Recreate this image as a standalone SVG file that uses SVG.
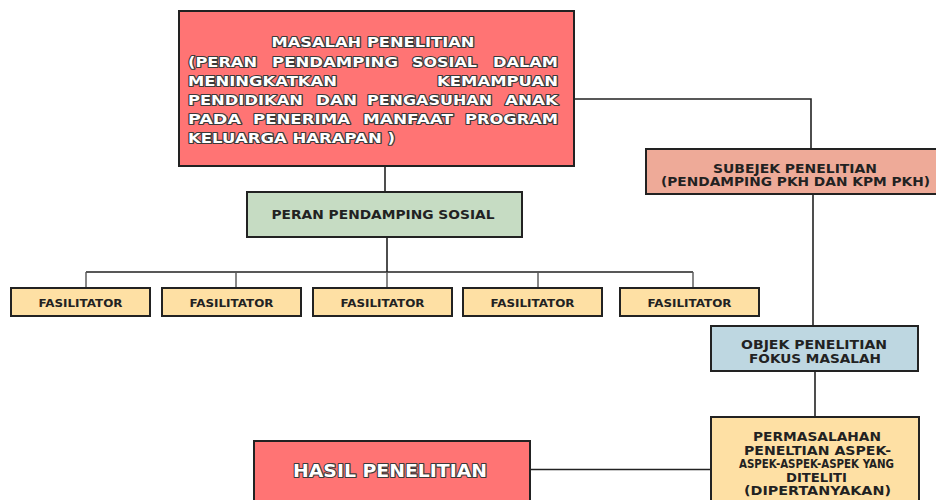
<svg xmlns="http://www.w3.org/2000/svg" width="936" height="500" viewBox="0 0 936 500">
<style>
.box{stroke:#222;stroke-width:2}
.red{fill:#ff7474}
.green{fill:#c6dcc3}
.salmon{fill:#eeaa98}
.blue{fill:#bed7e1}
.yellow{fill:#fee0a4}
.t{font-family:"DejaVu Sans","Open Sans",sans-serif;font-weight:bold;fill:#222;text-anchor:middle}
.w{font-family:"DejaVu Sans","Open Sans",sans-serif;font-weight:bold;fill:#fff;stroke:#3a3a3a;stroke-width:2.2;paint-order:stroke;stroke-linejoin:round}
.c{fill:none;stroke:#222;stroke-width:1.6}
.ct{fill:none;stroke:#555;stroke-width:1.4}
</style>
<rect width="936" height="500" fill="#fff"/>
<g id="connectors">
<path class="c" d="M385 166V192"/>
<path class="c" d="M387 237V272M86 272H693"/>
<path class="ct" d="M86 272V288M236 272V288M387 272V288M538 272V288M693 272V288"/>
<path class="c" d="M574 99H811V149"/>
<path class="c" d="M813 194V326"/>
<path class="c" d="M815 371V417"/>
<path class="c" d="M711 469.5H530"/>
</g>
<g id="masalah">
<rect class="box red" x="179" y="11" width="395" height="155"/>
<g class="w" font-size="14">
<text x="373" y="47" text-anchor="middle" textLength="203" lengthAdjust="spacingAndGlyphs">MASALAH PENELITIAN</text>
<text x="188" y="67" textLength="69" lengthAdjust="spacingAndGlyphs">(PERAN</text>
<text x="272" y="67" textLength="126" lengthAdjust="spacingAndGlyphs">PENDAMPING</text>
<text x="412" y="67" textLength="65" lengthAdjust="spacingAndGlyphs">SOSIAL</text>
<text x="493" y="67" textLength="65" lengthAdjust="spacingAndGlyphs">DALAM</text>
<text x="188" y="86" textLength="149" lengthAdjust="spacingAndGlyphs">MENINGKATKAN</text>
<text x="437" y="86" textLength="121" lengthAdjust="spacingAndGlyphs">KEMAMPUAN</text>
<text x="188" y="105" textLength="115" lengthAdjust="spacingAndGlyphs">PENDIDIKAN</text>
<text x="316" y="105" textLength="41" lengthAdjust="spacingAndGlyphs">DAN</text>
<text x="367" y="105" textLength="125" lengthAdjust="spacingAndGlyphs">PENGASUHAN</text>
<text x="505" y="105" textLength="53" lengthAdjust="spacingAndGlyphs">ANAK</text>
<text x="188" y="124" textLength="53" lengthAdjust="spacingAndGlyphs">PADA</text>
<text x="253" y="124" textLength="97" lengthAdjust="spacingAndGlyphs">PENERIMA</text>
<text x="363" y="124" textLength="90" lengthAdjust="spacingAndGlyphs">MANFAAT</text>
<text x="465" y="124" textLength="93" lengthAdjust="spacingAndGlyphs">PROGRAM</text>
<text x="188" y="143" textLength="207" lengthAdjust="spacingAndGlyphs">KELUARGA HARAPAN )</text>
</g>
</g>
<g id="peran">
<rect class="box green" x="247" y="192" width="275" height="45"/>
<text class="t" x="383" y="218.5" font-size="12.5" textLength="223" lengthAdjust="spacingAndGlyphs">PERAN PENDAMPING SOSIAL</text>
</g>
<g id="fasilitator1">
<rect class="box yellow" x="11" y="288" width="139" height="28"/>
<text class="t" x="80.5" y="306.5" font-size="11" textLength="84" lengthAdjust="spacingAndGlyphs">FASILITATOR</text>
</g>
<g id="fasilitator2">
<rect class="box yellow" x="162" y="288" width="139" height="28"/>
<text class="t" x="231.5" y="306.5" font-size="11" textLength="84" lengthAdjust="spacingAndGlyphs">FASILITATOR</text>
</g>
<g id="fasilitator3">
<rect class="box yellow" x="313" y="288" width="139" height="28"/>
<text class="t" x="382.5" y="306.5" font-size="11" textLength="84" lengthAdjust="spacingAndGlyphs">FASILITATOR</text>
</g>
<g id="fasilitator4">
<rect class="box yellow" x="463" y="288" width="139" height="28"/>
<text class="t" x="532.5" y="306.5" font-size="11" textLength="84" lengthAdjust="spacingAndGlyphs">FASILITATOR</text>
</g>
<g id="fasilitator5">
<rect class="box yellow" x="620" y="288" width="139" height="28"/>
<text class="t" x="689.5" y="306.5" font-size="11" textLength="84" lengthAdjust="spacingAndGlyphs">FASILITATOR</text>
</g>
<g id="subjek">
<rect class="box salmon" x="646" y="149" width="300" height="45"/>
<text class="t" x="795" y="172.5" font-size="12" textLength="164" lengthAdjust="spacingAndGlyphs">SUBEJEK PENELITIAN</text>
<text class="t" x="795.5" y="185.5" font-size="12" textLength="269" lengthAdjust="spacingAndGlyphs">(PENDAMPING PKH DAN KPM PKH)</text>
</g>
<g id="objek">
<rect class="box blue" x="711" y="326" width="207" height="45"/>
<text class="t" x="814" y="348.5" font-size="12" textLength="146" lengthAdjust="spacingAndGlyphs">OBJEK PENELITIAN</text>
<text class="t" x="815" y="362.5" font-size="12" textLength="132" lengthAdjust="spacingAndGlyphs">FOKUS MASALAH</text>
</g>
<g id="permasalahan">
<rect class="box yellow" x="711" y="417" width="208" height="90"/>
<text class="t" x="817" y="440.5" font-size="12" textLength="128" lengthAdjust="spacingAndGlyphs">PERMASALAHAN</text>
<text class="t" x="817.5" y="454.5" font-size="12" textLength="147" lengthAdjust="spacingAndGlyphs">PENELTIAN ASPEK-</text>
<text class="t" x="816.5" y="467.5" font-size="12" textLength="155" lengthAdjust="spacingAndGlyphs">ASPEK-ASPEK-ASPEK YANG</text>
<text class="t" x="816.5" y="481.5" font-size="12" textLength="61" lengthAdjust="spacingAndGlyphs">DITELITI</text>
<text class="t" x="817.5" y="494.5" font-size="12" textLength="147" lengthAdjust="spacingAndGlyphs">(DIPERTANYAKAN)</text>
</g>
<g id="hasil">
<rect class="box red" x="254" y="441" width="276" height="70"/>
<text class="w" x="390" y="476.5" font-size="18" text-anchor="middle" textLength="194" lengthAdjust="spacingAndGlyphs">HASIL PENELITIAN</text>
</g>
</svg>
